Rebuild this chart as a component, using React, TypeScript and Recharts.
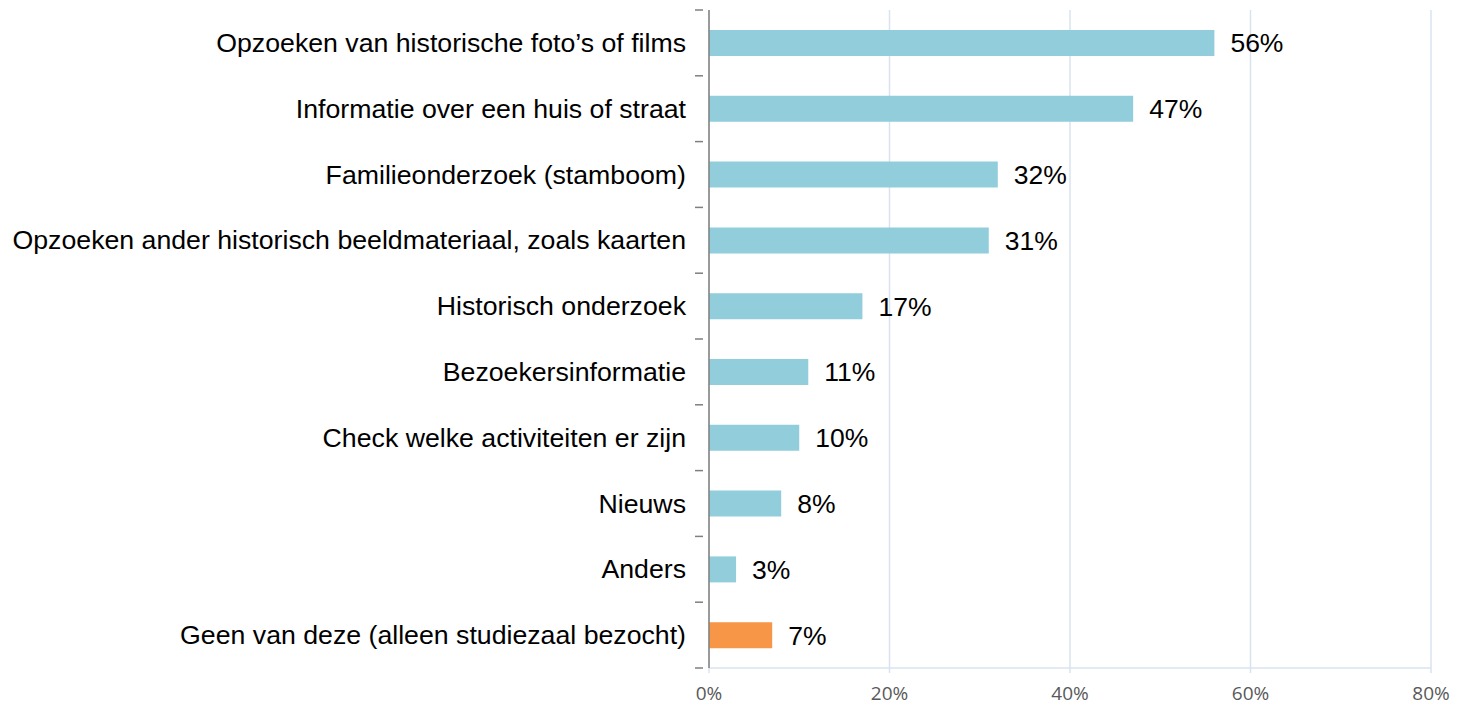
import { BarChart, Bar, XAxis, YAxis, CartesianGrid, Cell, LabelList } from 'recharts';

const categories = [
  'Opzoeken van historische foto’s of films',
  'Informatie over een huis of straat',
  'Familieonderzoek (stamboom)',
  'Opzoeken ander historisch beeldmateriaal, zoals kaarten',
  'Historisch onderzoek',
  'Bezoekersinformatie',
  'Check welke activiteiten er zijn',
  'Nieuws',
  'Anders',
  'Geen van deze (alleen studiezaal bezocht)',
];

const values = [0.56, 0.47, 0.32, 0.31, 0.17, 0.11, 0.1, 0.08, 0.03, 0.07];

const xTicks = [0, 0.2, 0.4, 0.6, 0.8];

const BLUE = '#92CDDC';
const ORANGE = '#F79646';

const data = categories.map((name, i) => ({ name, value: values[i] }));

const pct = (v: number) => `${Math.round(v * 100)}%`;

const CategoryTick = (props: any) => {
  const { x, y, payload, index } = props;
  const half = payload.offset || 32.9;
  return (
    <g>
      <text
        x={x - 15}
        y={y}
        textAnchor="end"
        dominantBaseline="central"
        fontSize={26.7}
        fontFamily="Liberation Sans, Arial, sans-serif"
        fill="#000"
      >
        {payload.value}
      </text>
      <line x1={x - 6} x2={x + 2} y1={y - half} y2={y - half} stroke="#7F7F7F" strokeWidth={1.5} />
      {index === categories.length - 1 && (
        <line x1={x - 6} x2={x + 2} y1={y + half} y2={y + half} stroke="#7F7F7F" strokeWidth={1.5} />
      )}
    </g>
  );
};

const App = () => {
  return (
    <div style={{ position: 'absolute', left: 0, top: 0, background: '#fff' }}>
      <BarChart
        width={1459}
        height={707}
        data={data}
        layout="vertical"
        margin={{ top: 10, right: 28, bottom: 0, left: 0 }}
      >
        <CartesianGrid horizontal={false} stroke="#D9E3EF" strokeWidth={1.5} />
        <XAxis
          type="number"
          dataKey="value"
          domain={[0, 0.8]}
          ticks={xTicks}
          tickFormatter={pct}
          height={39}
          axisLine={{ stroke: '#D9E3EF', strokeWidth: 1.5 }}
          tickLine={{ stroke: '#D9E3EF', strokeWidth: 1.5 }}
          tickSize={5}
          tick={{ fontSize: 19, fill: '#595959', fontFamily: 'Open Sans, sans-serif' }}
          tickMargin={14}
        />
        <YAxis
          type="category"
          dataKey="name"
          width={709}
          axisLine={{ stroke: '#7F7F7F', strokeWidth: 1.5 }}
          tickLine={false}
          tick={<CategoryTick />}
          interval={0}
        />
        <Bar dataKey="value" barSize={26} isAnimationActive={false}>
          {data.map((d, i) => (
            <Cell key={`cell-${i}`} fill={i === data.length - 1 ? ORANGE : BLUE} />
          ))}
          <LabelList
            dataKey="value"
            position="right"
            offset={16}
            formatter={(v: any) => pct(Number(v))}
            style={{ fontSize: 26.5, fill: '#000', fontFamily: 'Liberation Sans, Arial, sans-serif' }}
          />
        </Bar>
      </BarChart>
    </div>
  );
};

export default App;
